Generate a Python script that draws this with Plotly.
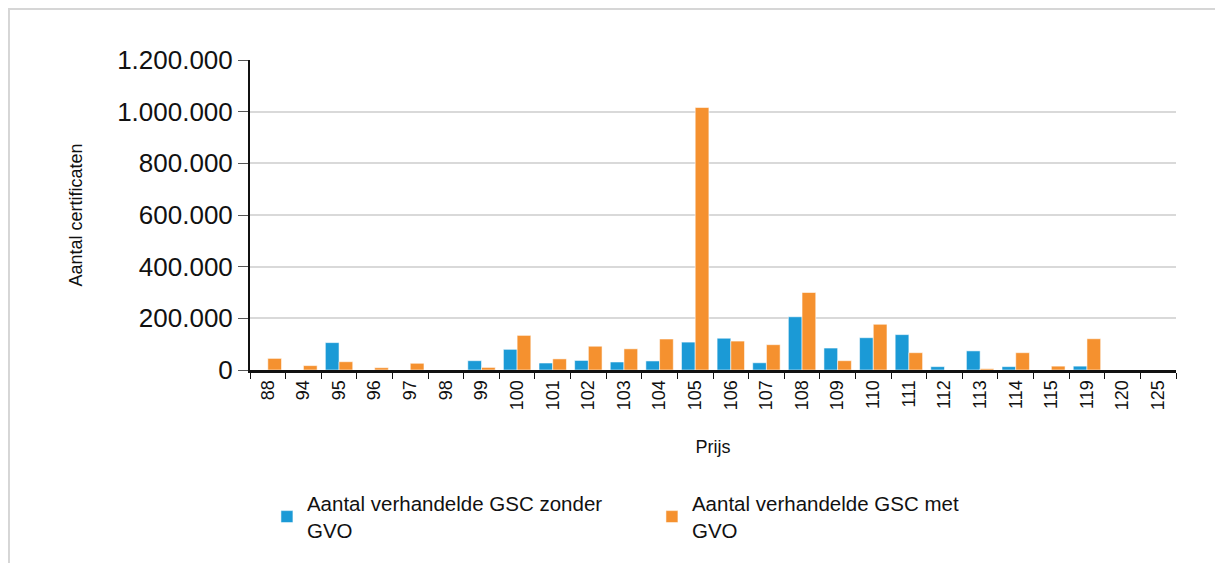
import plotly.graph_objects as go

prices = ["88", "94", "95", "96", "97", "98", "99", "100", "101", "102", "103", "104", "105",
          "106", "107", "108", "109", "110", "111", "112", "113", "114", "115", "119", "120", "125"]
zonder_gvo = [0, 0, 106000, 0, 0, 0, 36000, 80000, 27000, 37000, 31000, 35000, 108000,
              123000, 28000, 206000, 85000, 125000, 137000, 13000, 74000, 13000, 0, 15000, 0, 0]
met_gvo = [45000, 17000, 32000, 9000, 26000, 0, 10000, 134000, 43000, 92000, 82000, 120000, 1016000,
           112000, 98000, 300000, 36000, 177000, 67000, 0, 5000, 67000, 15000, 121000, 0, 0]

name_zonder = "Aantal verhandelde GSC zonder<br>GVO"
name_met = "Aantal verhandelde GSC met<br>GVO"

font_family = "Liberation Sans, Arial, sans-serif"

fig = go.Figure()
fig.add_trace(go.Bar(x=prices, y=zonder_gvo, name=name_zonder,
                     marker=dict(color="#1b9ad6", line=dict(color="rgba(255,255,255,0.55)", width=1))))
fig.add_trace(go.Bar(x=prices, y=met_gvo, name=name_met,
                     marker=dict(color="#f5912f", line=dict(color="rgba(255,255,255,0.55)", width=1))))

fig.update_layout(
    width=1215, height=555,
    margin=dict(l=242, r=47, t=52, b=193),
    paper_bgcolor="white", plot_bgcolor="white",
    separators=",.",
    barmode="group", bargap=0.23, bargroupgap=0,
    font=dict(family=font_family, color="#111111"),
    legend=dict(orientation="h", x=0.0183, xanchor="left", y=-0.366, yanchor="top",
                font=dict(size=20.5, family=font_family), entrywidth=340, entrywidthmode="pixels",
                traceorder="normal", valign="middle"),
    shapes=[dict(type="rect", xref="paper", yref="paper", x0=-0.2603, x1=1.2, y0=-0.8, y1=1.1645,
                 line=dict(color="#d6d6d6", width=2), fillcolor="rgba(0,0,0,0)", layer="below")],
)

fig.update_xaxes(
    type="category",
    showline=True, linecolor="#111111", linewidth=3,
    ticks="outside", tickson="boundaries", ticklen=6, tickcolor="#111111", tickwidth=1,
    tickangle=-90, tickfont=dict(size=18, family=font_family),
    showgrid=False,
    title=dict(text="Prijs", font=dict(size=18, family=font_family), standoff=32),
)
fig.update_yaxes(
    range=[0, 1200000], dtick=200000, tickformat=",d",
    showline=True, linecolor="#111111", linewidth=2,
    ticks="outside", ticklen=10, tickcolor="#555555", tickwidth=1,
    tickfont=dict(size=26, family=font_family),
    showgrid=True, gridcolor="#d9d9d9", gridwidth=2,
    zeroline=False,
    title=dict(text="Aantal certificaten", font=dict(size=18, family=font_family), standoff=30),
)

fig.write_html("out.html")
